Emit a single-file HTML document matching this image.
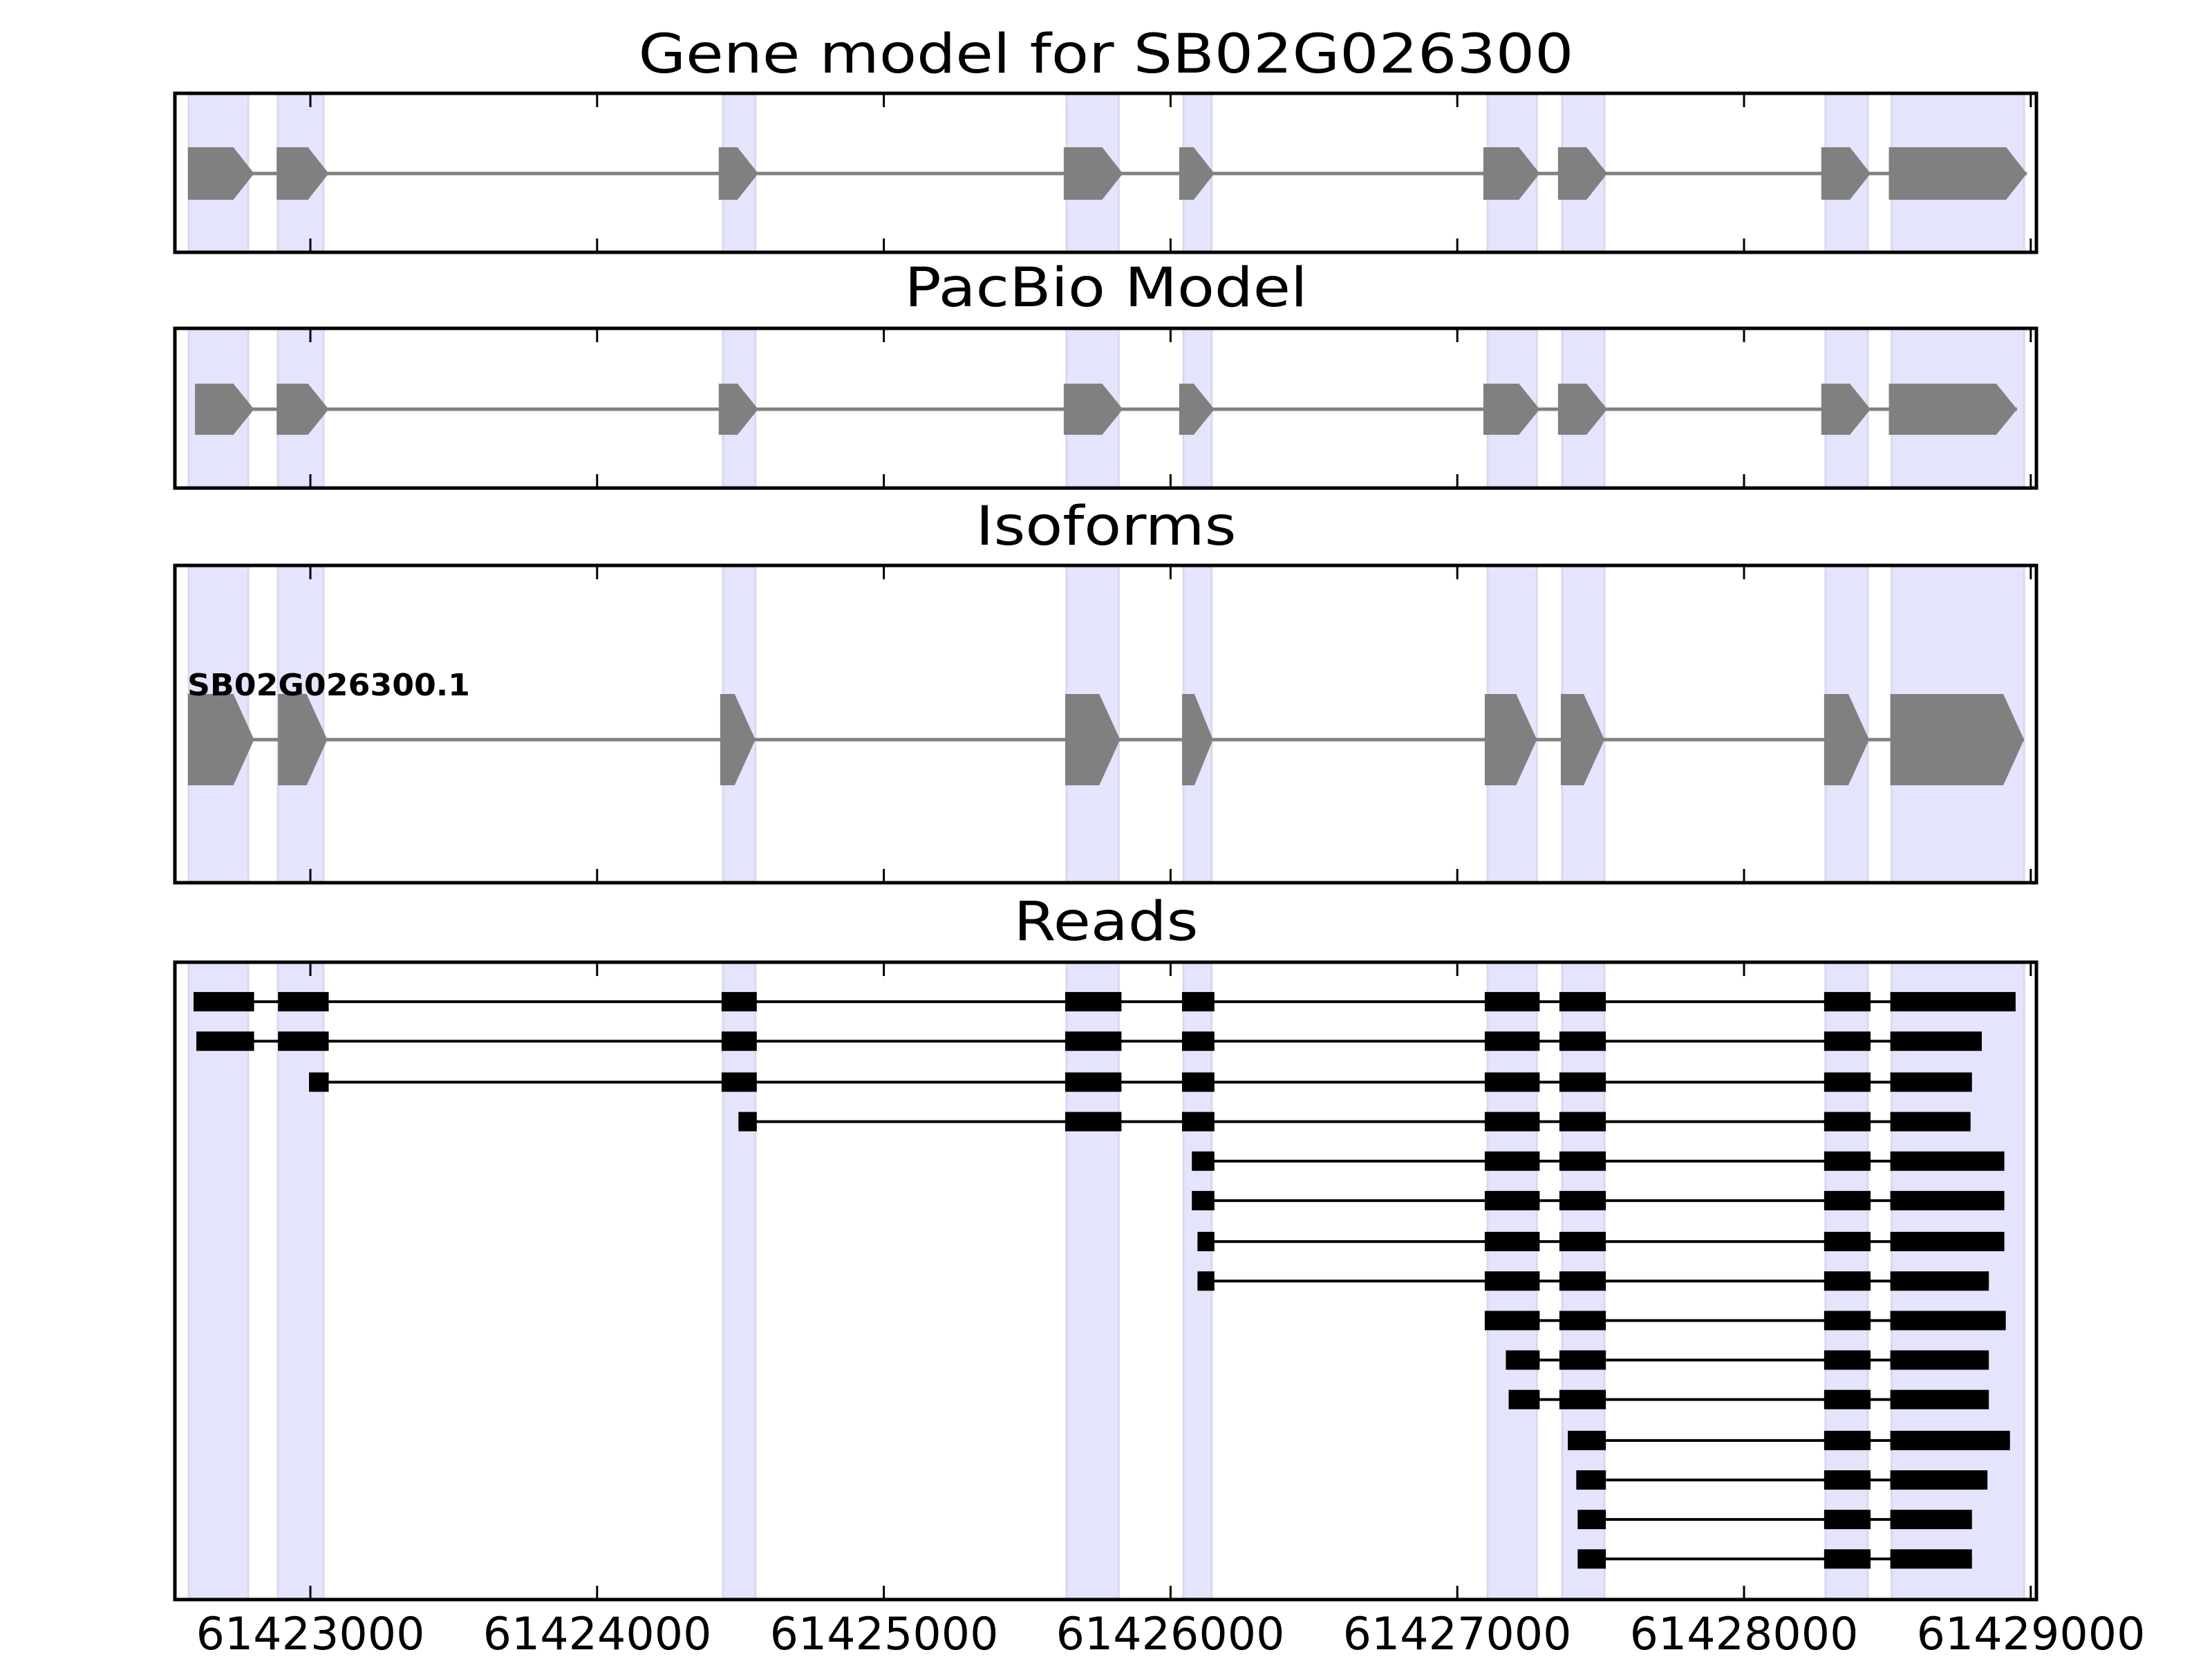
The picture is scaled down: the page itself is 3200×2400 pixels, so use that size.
<!DOCTYPE html>
<html><head><meta charset="utf-8"><style>html,body{margin:0;padding:0;background:#fff;}svg{display:block}</style></head>
<body>
<svg id="s" xmlns="http://www.w3.org/2000/svg" width="3200" height="2400" viewBox="0 0 3200 2400" font-family="DejaVu Sans, Liberation Sans, sans-serif">
<rect width="3200" height="2400" fill="#fff"/>
<g id="g"></g>
<text x="1600" y="105" font-size="78" text-anchor="middle" textLength="1353" lengthAdjust="spacingAndGlyphs">Gene model for SB02G026300</text>
<text x="1600" y="443" font-size="78" text-anchor="middle" textLength="583" lengthAdjust="spacingAndGlyphs">PacBio Model</text>
<text x="1600" y="788" font-size="78" text-anchor="middle" textLength="377" lengthAdjust="spacingAndGlyphs">Isoforms</text>
<text x="1600" y="1360" font-size="78" text-anchor="middle" textLength="267" lengthAdjust="spacingAndGlyphs">Reads</text>
<text x="271" y="1006" font-size="44" font-weight="bold" textLength="409" lengthAdjust="spacingAndGlyphs">SB02G026300.1</text>
<g font-size="65" text-anchor="middle">
<text x="449" y="2386">61423000</text>
<text x="864" y="2386">61424000</text>
<text x="1279" y="2386">61425000</text>
<text x="1693" y="2386">61426000</text>
<text x="2108" y="2386">61427000</text>
<text x="2523" y="2386">61428000</text>
<text x="2938" y="2386">61429000</text>
</g>
</svg>
<script>
(function(){
var NS="http://www.w3.org/2000/svg",g=document.getElementById("g");
function el(t,a){var e=document.createElementNS(NS,t);for(var k in a)e.setAttribute(k,a[k]);g.appendChild(e);return e;}
function f(s){return 2.037*s+5;}
var L=253,R=2946;
var axes=[[135,365],[475,706],[818,1277],[1392,2314]];
var bands=[[273,359],[402,468],[511,534],[755,792],[838,858],[1054,1089],[1107,1137],[1294,1324],[1341,1435]];
axes.forEach(function(a){
 bands.forEach(function(b,i){var x0=i<2?b[0]:f(b[0]),x1=i<2?b[1]:f(b[1]);
  el("rect",{x:x0,y:a[0],width:x1-x0,height:a[1]-a[0],fill:"#e4e4fc",stroke:"#d8d8ee","stroke-width":3});});
});
function gene(ex,yc,h,tip){
 el("line",{x1:f(ex[0][0]),x2:f(ex[ex.length-1][1]),y1:yc,y2:yc,stroke:"#808080","stroke-width":5});
 ex.forEach(function(e){var a=f(e[0]),b=f(e[1]),t=Math.min(tip,(b-a)*0.6);
  el("polygon",{points:a+","+(yc-h/2)+" "+(b-t)+","+(yc-h/2)+" "+b+","+yc+" "+(b-t)+","+(yc+h/2)+" "+a+","+(yc+h/2),fill:"#808080"});});
}
gene([[131,178],[194,231],[508,536],[753,795],[835,860],[1051,1091],[1104,1139],[1291,1326],[1339,1437]],251,76,30);
gene([[136,178],[194,231],[508,536],[753,795],[835,860],[1051,1091],[1104,1139],[1291,1326],[1339,1430]],592,74,30);
gene([[131,178],[195,230],[509,534],[754,793],[837,859],[1052,1089],[1106,1137],[1293,1325],[1340,1435]],1070,132,30);
var T=[[1052,1091],[1105,1138],[1293,1326]];
var rows=[
[[135,178],[195,231],[510,535],[754,794],[837,860]].concat(T,[[1340,1429]]),
[[137,178],[195,231],[510,535],[754,794],[837,860]].concat(T,[[1340,1405]]),
[[217,231],[510,535],[754,794],[837,860]].concat(T,[[1340,1398]]),
[[522,535],[754,794],[837,860]].concat(T,[[1340,1397]]),
[[844,860]].concat(T,[[1340,1421]]),
[[844,860]].concat(T,[[1340,1421]]),
[[848,860]].concat(T,[[1340,1421]]),
[[848,860]].concat(T,[[1340,1410]]),
T.concat([[1340,1422]]),
[[1067,1091],[1105,1138],[1293,1326],[1340,1410]],
[[1069,1091],[1105,1138],[1293,1326],[1340,1410]],
[[1111,1138],[1293,1326],[1340,1425]],
[[1117,1138],[1293,1326],[1340,1409]],
[[1118,1138],[1293,1326],[1340,1398]],
[[1118,1138],[1293,1326],[1340,1398]]];
var ys=[710,738,767,795,823,851,880,908,936,964,992,1021,1049,1077,1105];
rows.forEach(function(r,i){var y=ys[i]*2.041;
 el("line",{x1:f(r[0][0]),x2:f(r[r.length-1][1]),y1:y,y2:y,stroke:"#000","stroke-width":4});
 r.forEach(function(e){el("rect",{x:f(e[0]),y:y-14,width:f(e[1])-f(e[0]),height:28,fill:"#000"});});
});
axes.forEach(function(a){
 for(var k=0;k<7;k++){var x=449+414.8*k;
  el("line",{x1:x,x2:x,y1:a[0],y2:a[0]+20,stroke:"#000","stroke-width":3});
  el("line",{x1:x,x2:x,y1:a[1],y2:a[1]-20,stroke:"#000","stroke-width":3});}
 el("rect",{x:L,y:a[0],width:R-L,height:a[1]-a[0],fill:"none",stroke:"#000","stroke-width":5});
});
})();
</script>
</body></html>
